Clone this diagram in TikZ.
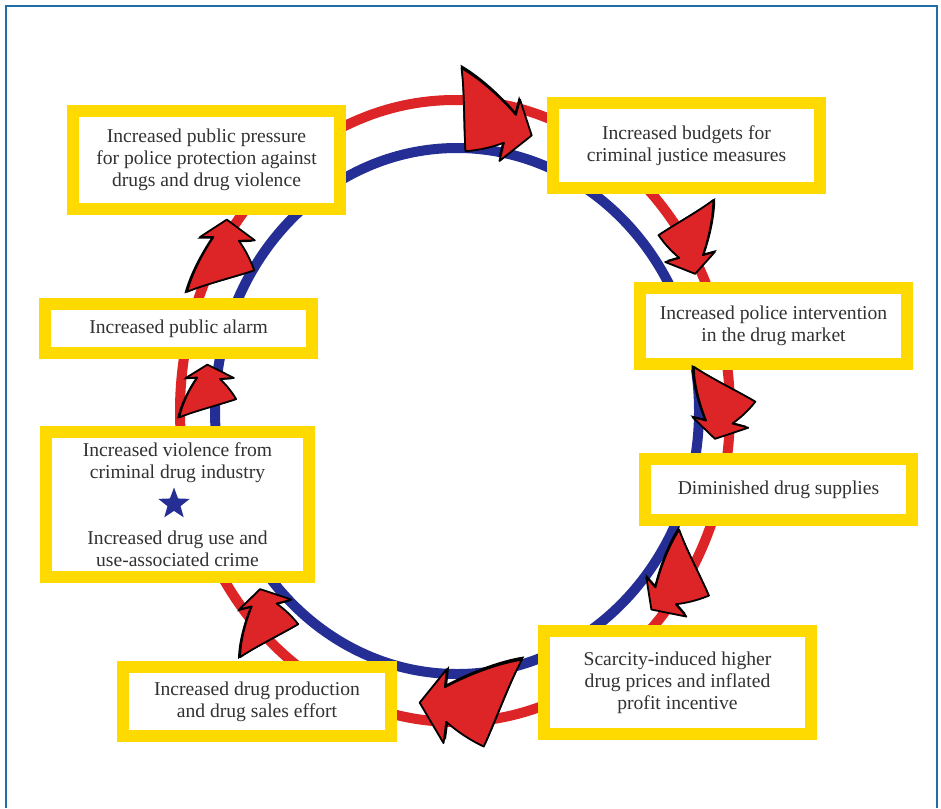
\documentclass[tikz,border=0pt]{standalone}
\usepackage{fontspec}
\setmainfont{Liberation Serif}
\usetikzlibrary{shapes.geometric}

\definecolor{boxyellow}{RGB}{255,218,0}
\definecolor{ringred}{RGB}{221,36,38}
\definecolor{ringblue}{RGB}{36,46,148}
\definecolor{frameblue}{RGB}{31,110,168}
\definecolor{inktext}{RGB}{50,50,50}

\newcommand\swooshpath{(0.5,0) -- (0.22,0.3) -- (0.25,0.13)
      .. controls (0.05,0.22) and (-0.25,0.32) .. (-0.5,0.34)
      .. controls (-0.36,0.12) and (-0.22,-0.2) .. (-0.08,-0.46)
      .. controls (0.06,-0.38) and (0.16,-0.3) .. (0.26,-0.2)
      -- (0.3,-0.4) -- cycle}

\tikzset{
  stage/.style={draw=boxyellow, line width=6pt, fill=white, align=center,
    minimum width=133.5pt, inner sep=2pt, text=inktext,
    font=\fontsize{9.8}{11}\selectfont},
  ring/.style={line width=5pt},
  pics/swoosh/.style={code={
    \fill[black, shift={(-0.025,0.03)}] \swooshpath;
    \filldraw[fill=ringred, draw=black, line width=0.9pt, line join=round] \swooshpath;
  }}
}

\begin{document}
\begin{tikzpicture}[x=0.5pt, y=-0.5pt]
    \useasboundingbox (0,0) rectangle (941,808);
    \draw[frameblue, line width=1.25pt] (6,808) -- (6,6) -- (937,6) -- (937,808);

    % the two rings
    \draw[ring, ringred] (455,411) ellipse [x radius=275, y radius=311];
    \draw[ring, ringblue] (457,411) ellipse [x radius=242, y radius=263];

    % stages of the cycle
    \node[stage, minimum height=49pt] (pressure) at (206.5,160) {Increased public pressure\\for police protection against\\drugs and drug violence};
    \node[stage, minimum height=42.5pt] (budgets) at (686.5,145.5) {Increased budgets for\\criminal justice measures};
    \node[stage, minimum height=38pt] (police) at (773.5,326) {Increased police intervention\\in the drug market};
    \node[stage, minimum height=30.5pt] (supplies) at (778.5,489.5) {Diminished drug supplies};
    \node[stage, minimum height=51.5pt] (prices) at (677.5,682.5) {Scarcity-induced higher\\drug prices and inflated\\profit incentive};
    \node[stage, minimum height=34.5pt, minimum width=134pt] (production) at (257,701.5) {Increased drug production\\and drug sales effort};
    \node[stage, minimum height=72.5pt, minimum width=131.5pt] (violence) at (177.5,504.5) {Increased violence from\\criminal drug industry\\[22pt]Increased drug use and\\use-associated crime};
    \node[star, star points=5, star point ratio=2.4, fill=ringblue, minimum size=16.5pt, inner sep=0pt] (star) at (174,504) {};
    \node[stage, minimum height=24.5pt] (alarm) at (178.5,328.5) {Increased public alarm};

    % arrowheads round the cycle
    \pic[rotate=-25, scale=92, yscale=-1] at (490,116) {swoosh};
    \pic[rotate=-85, scale=72, yscale=-1] at (692,238) {swoosh};
    \pic[rotate=-95, scale=70, yscale=1.15] at (718,404) {swoosh};
    \pic[rotate=-128, scale=80] at (676,578) {swoosh};
    \pic[rotate=184, scale=105] at (472,699) {swoosh};
    \pic[rotate=95, scale=66, yscale=-1.15] at (263,622) {swoosh};
    \pic[rotate=85, scale=55, yscale=-1.25] at (205,392) {swoosh};
    \pic[rotate=80, scale=78, yscale=-1] at (220,258) {swoosh};
\end{tikzpicture}
\end{document}
